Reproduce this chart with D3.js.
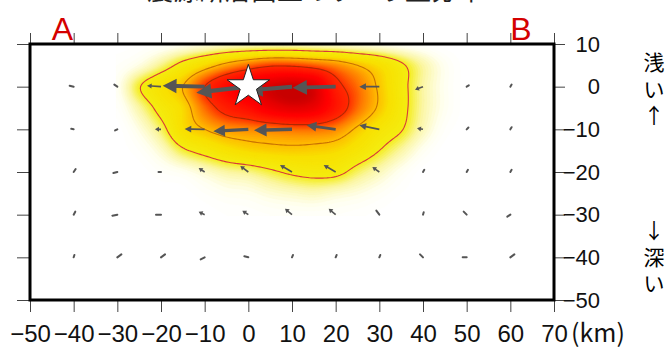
<!DOCTYPE html>
<html>
<head>
<meta charset="utf-8">
<script src="https://cdn.jsdelivr.net/npm/d3@7"></script>
<style>
  body { margin: 0; background: #fff; }
  .ax text { font-family: "Liberation Sans", Arial, sans-serif; fill: #111; }
  .ax line { stroke: #444; stroke-width: 1; }
</style>
</head>
<body>
<div id="chart"></div>
<script>
// axis ticks
const xTickValues = [-50, -40, -30, -20, -10, 0, 10, 20, 30, 40, 50, 60, 70];
const yTickValues = [10, 0, -10, -20, -30, -40, -50];

// slip grid (m), rows = depth, cols = distance along A-B
const slipX = [-30, -25, -20, -15, -10, -5, 0, 5, 10, 15, 20, 25, 30, 35, 40, 45, 50];
const slipDepth = [10, 5, 0, -5, -10, -15, -20, -25, -30];
const slipRow10  = [0, 0.02, 0.05, 0.1, 0.15, 0.2, 0.22, 0.22, 0.22, 0.2, 0.18, 0.15, 0.12, 0.08, 0.04, 0, 0];
const slipRow5   = [0.05, 0.15, 0.35, 0.6, 0.85, 1.1, 1.3, 1.45, 1.45, 1.35, 1.2, 1.0, 0.8, 0.55, 0.3, 0.1, 0];
const slipRow0   = [0.1, 0.48, 0.75, 1.0, 1.5, 1.9, 2.2, 2.4, 2.5, 2.35, 1.65, 1.3, 0.95, 0.6, 0.3, 0.1, 0];
const slipRowM5  = [0.05, 0.3, 0.6, 0.85, 1.3, 1.65, 1.85, 2.15, 2.3, 2.2, 1.75, 1.3, 0.95, 0.6, 0.3, 0.1, 0];
const slipRowM10 = [0, 0.15, 0.4, 0.8, 1.0, 1.15, 1.2, 1.25, 1.3, 1.3, 1.2, 0.95, 0.7, 0.52, 0.25, 0.05, 0];
const slipRowM15 = [0, 0.05, 0.2, 0.45, 0.6, 0.75, 0.85, 0.9, 0.92, 0.9, 0.85, 0.7, 0.5, 0.3, 0.1, 0, 0];
const slipRowM20 = [0, 0, 0.05, 0.1, 0.2, 0.3, 0.35, 0.45, 0.55, 0.6, 0.58, 0.4, 0.25, 0.1, 0, 0, 0];
const slipRowM25 = [0, 0, 0, 0, 0.05, 0.1, 0.12, 0.18, 0.22, 0.25, 0.2, 0.15, 0.08, 0.02, 0, 0, 0];
const slipRowM30 = [0, 0, 0, 0, 0, 0.02, 0.03, 0.05, 0.06, 0.06, 0.05, 0.03, 0.01, 0, 0, 0, 0];
const slipContours = [0.5, 1.0, 1.5];

// slip vectors (m): u = along A-B, v = up
const vecX = [-40, -30, -20, -10, 0, 10, 20, 30, 40, 50, 60];
const vecDepth = [0, -10, -20, -30, -40];
const vecU = [
  [-0.2, -0.15, -0.7, -2.1, -2.6, -2.2, -2.15, -1.0, -0.4, 0.05, 0.03],
  [-0.1, -0.1, -0.3, -1.0, -1.75, -1.9, -1.45, -1.0, -0.3, 0.02, 0.03],
  [0.1, -0.2, -0.1, -0.3, -0.4, -0.6, -0.6, -0.35, 0.03, 0.03, 0.03],
  [0.08, -0.25, -0.25, -0.3, -0.3, -0.35, -0.35, -0.15, 0.03, -0.15, -0.15],
  [0.03, 0.2, 0.2, -0.2, -0.2, 0.02, 0.02, 0.02, -0.15, -0.2, 0.2]
];
const vecV = [
  [0.05, 0.1, 0.05, 0.05, -0.3, -0.2, -0.05, 0, -0.15, 0.03, 0.05],
  [0.02, -0.05, 0, 0.02, -0.1, -0.05, 0.2, 0.2, 0.05, 0.02, 0.05],
  [0.15, -0.05, 0, 0.2, 0.3, 0.35, 0.35, 0.25, 0.05, 0.05, 0.05],
  [0.15, -0.05, 0, 0.15, 0.2, 0.3, 0.3, 0.2, 0.1, 0.15, -0.1],
  [0.1, 0.15, 0.15, -0.1, 0.05, 0.05, 0.05, 0.05, 0.15, 0, 0.15]
];

const hypocenter = {x: 0, depth: 0};

const width = 670, height = 347;
const margin = {top: 44, right: 116, bottom: 47, left: 30};

const x = d3.scaleLinear().domain([-50, 70]).range([margin.left, width - margin.right]);
const y = d3.scaleLinear().domain([-50, 10]).range([height - margin.bottom, margin.top]);

const color = d3.scaleLinear()
  .domain([0, 0.1, 0.3, 0.5, 0.8, 1.0, 1.25, 1.5, 2.0, 2.3, 2.5])
  .range(["#ffffff", "#fffff0", "#fbf6a0", "#f4ec10", "#f8e000", "#ffbb00", "#ff7800", "#ff2a00", "#ff0000", "#e40000", "#c80000"])
  .clamp(true);

const svg = d3.select("#chart").append("svg")
  .attr("width", width)
  .attr("height", height);

// title (cut off at the top edge)
svg.append("text")
  .attr("x", 315).attr("y", 0)
  .attr("text-anchor", "middle")
  .style("font-family", "'Noto Sans CJK JP'")
  .style("font-size", "26px")
  .style("fill", "#222")
  .text("震源断層面上のすべり量分布");

svg.append("clipPath").attr("id", "plot-clip")
  .append("rect")
  .attr("x", x(-50)).attr("y", y(10))
  .attr("width", x(70) - x(-50)).attr("height", y(-50) - y(10));

const plot = svg.append("g").attr("clip-path", "url(#plot-clip)");

// resample the slip grid for smooth shading
const slipRows = [slipRow10, slipRow5, slipRow0, slipRowM5, slipRowM10, slipRowM15, slipRowM20, slipRowM25, slipRowM30];
const res = 0.5;
const step = slipX[1] - slipX[0];
const nx = Math.round((slipX[slipX.length - 1] - slipX[0]) / res) + 1;
const ny = Math.round((slipDepth[0] - slipDepth[slipDepth.length - 1]) / res) + 1;

function cubic(p0, p1, p2, p3, t) {
  return p1 + 0.5 * t * (p2 - p0 + t * (2 * p0 - 5 * p1 + 4 * p2 - p3 + t * (3 * (p1 - p2) + p3 - p0)));
}
function cell(r, c) {
  r = Math.max(0, Math.min(slipRows.length - 1, r));
  c = Math.max(0, Math.min(slipX.length - 1, c));
  return slipRows[r][c];
}
function sample(r, c) {
  const r0 = Math.floor(r), c0 = Math.floor(c);
  const tr = r - r0, tc = c - c0;
  const rowVals = [-1, 0, 1, 2].map(k =>
    cubic(cell(r0 + k, c0 - 1), cell(r0 + k, c0), cell(r0 + k, c0 + 1), cell(r0 + k, c0 + 2), tc));
  return Math.max(0, cubic(rowVals[0], rowVals[1], rowVals[2], rowVals[3], tr));
}

const values = new Array(nx * ny);
for (let j = 0; j < ny; j++) {
  for (let i = 0; i < nx; i++) {
    values[j * nx + i] = sample(j * res / step, i * res / step);
  }
}

const toPx = d3.geoTransform({
  point: function(px, py) {
    this.stream.point(x(slipX[0] + (px - 0.5) * res), y(slipDepth[0] - (py - 0.5) * res));
  }
});
const path = d3.geoPath(toPx);

const bands = d3.contours().size([nx, ny]).thresholds(d3.range(0.02, 2.56, 0.03))(values);
plot.append("g")
  .selectAll("path")
  .data(bands)
  .join("path")
  .attr("d", path)
  .attr("fill", d => color(d.value))
  .attr("stroke", d => color(d.value))
  .attr("stroke-width", 0.3);

const lineColor = {0.5: "#d83a3a", 1: "#c87000", 1.5: "#b02800"};
plot.append("g")
  .selectAll("path")
  .data(d3.contours().size([nx, ny]).thresholds(slipContours)(values))
  .join("path")
  .attr("d", path)
  .attr("fill", "none")
  .attr("stroke", d => lineColor[d.value])
  .attr("stroke-width", 1.1);

// slip vectors
const S = 20;
const vectors = [];
vecDepth.forEach((dep, r) => vecX.forEach((vx, c) => {
  vectors.push({x: vx, depth: dep, u: vecU[r][c], v: vecV[r][c]});
}));

function arrowPath(d) {
  const x0 = x(d.x), y0 = y(d.depth);
  const dx = d.u * S, dy = -d.v * S;
  const L = Math.hypot(dx, dy);
  const ux = dx / L, uy = dy / L, nxp = -uy, nyp = ux;
  const hl = Math.max(4, Math.min(15, L * 0.33));
  const hw = Math.max(2.5, Math.min(7.5, L * 0.17));
  const sw = Math.max(0.8, Math.min(2.1, L * 0.045));
  const bx = x0 + ux * (L - hl), by = y0 + uy * (L - hl);
  const pts = [
    [x0 + nxp * sw, y0 + nyp * sw],
    [bx + nxp * sw, by + nyp * sw],
    [bx + nxp * hw, by + nyp * hw],
    [x0 + dx, y0 + dy],
    [bx - nxp * hw, by - nyp * hw],
    [bx - nxp * sw, by - nyp * sw],
    [x0 - nxp * sw, y0 - nyp * sw]
  ];
  return "M" + pts.map(p => p[0].toFixed(2) + "," + p[1].toFixed(2)).join("L") + "Z";
}

const big = vectors.filter(d => Math.hypot(d.u, d.v) * S >= 6);
const small = vectors.filter(d => Math.hypot(d.u, d.v) * S < 6);

plot.append("g")
  .selectAll("path")
  .data(big)
  .join("path")
  .attr("d", arrowPath)
  .attr("fill", "#555");

plot.append("g")
  .selectAll("line")
  .data(small)
  .join("line")
  .attr("x1", d => x(d.x))
  .attr("y1", d => y(d.depth))
  .attr("x2", d => {
    const L = Math.hypot(d.u, d.v) * S;
    return x(d.x) + d.u * S * Math.max(L, 2.5) / L;
  })
  .attr("y2", d => {
    const L = Math.hypot(d.u, d.v) * S;
    return y(d.depth) - d.v * S * Math.max(L, 2.5) / L;
  })
  .attr("stroke", "#555")
  .attr("stroke-width", 2)
  .attr("stroke-linecap", "round");

// hypocenter star
svg.append("path")
  .attr("d", d3.symbol(d3.symbolStar, 560)())
  .attr("transform", `translate(${x(hypocenter.x)},${y(hypocenter.depth)})`)
  .attr("fill", "#fff")
  .attr("stroke", "#222")
  .attr("stroke-width", 1);

// axes
const xBottom = svg.append("g")
  .attr("class", "ax")
  .attr("transform", `translate(0,${y(-50)})`)
  .call(d3.axisBottom(x).tickValues(xTickValues).tickSize(12).tickPadding(13).tickFormat(d3.format("d")));
xBottom.select(".domain").remove();
xBottom.selectAll("text").style("font-size", "24px");

svg.append("g")
  .attr("class", "ax")
  .attr("transform", `translate(0,${y(10)})`)
  .call(d3.axisTop(x).tickValues(xTickValues).tickSize(11).tickFormat(""))
  .select(".domain").remove();

svg.append("g")
  .attr("class", "ax")
  .attr("transform", `translate(${x(-50)},0)`)
  .call(d3.axisLeft(y).tickValues(yTickValues).tickSize(13).tickFormat(""))
  .select(".domain").remove();

const yRight = svg.append("g")
  .attr("class", "ax")
  .attr("transform", `translate(${x(70)},0)`)
  .call(d3.axisRight(y).tickValues(yTickValues).tickSize(11).tickFormat(d3.format("d")));
yRight.select(".domain").remove();
yRight.selectAll("text")
  .attr("x", 46)
  .attr("text-anchor", "end")
  .style("font-size", "22px");

svg.append("text")
  .attr("x", x(70) + 17).attr("y", y(-50) + 42)
  .style("font-family", "'Noto Sans CJK JP'")
  .style("font-size", "25px")
  .style("fill", "#111")
  .text("(km)");

// frame
svg.append("rect")
  .attr("x", x(-50)).attr("y", y(10))
  .attr("width", x(70) - x(-50)).attr("height", y(-50) - y(10))
  .attr("fill", "none")
  .attr("stroke", "#000")
  .attr("stroke-width", 3);

// section end labels
svg.append("text").attr("x", x(-42.6)).attr("y", y(10) - 4)
  .attr("text-anchor", "middle")
  .style("font-family", "'Liberation Sans', Arial, sans-serif")
  .style("font-size", "32px").style("fill", "#d40000")
  .text("A");
svg.append("text").attr("x", x(62.4)).attr("y", y(10) - 4)
  .attr("text-anchor", "middle")
  .style("font-family", "'Liberation Sans', Arial, sans-serif")
  .style("font-size", "32px").style("fill", "#d40000")
  .text("B");

// vertical notes on the right
const noteUp = ["浅", "い", "↑"];
const noteDown = ["↓", "深", "い"];
function verticalNote(chars, top) {
  svg.append("text")
    .attr("text-anchor", "middle")
    .style("font-family", "'Noto Sans CJK JP'")
    .style("font-size", "21px")
    .style("fill", "#000")
    .selectAll("tspan")
    .data(chars)
    .join("tspan")
    .attr("x", 654)
    .attr("y", (d, i) => top + i * 26.5)
    .text(d => d);
}
verticalNote(noteUp, 70);
verticalNote(noteDown, 238);
</script>
</body>
</html>
